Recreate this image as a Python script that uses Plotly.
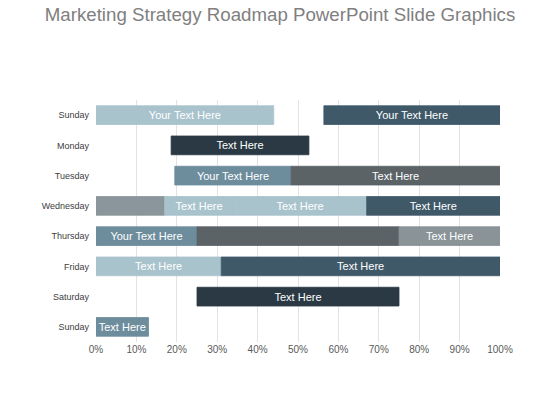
import plotly.graph_objects as go

# Rows, top to bottom
days = ["Sunday", "Monday", "Tuesday", "Wednesday", "Thursday", "Friday", "Saturday", "Sunday"]

# Segments: row index, start %, end %, tone, label
seg_row = [0, 0, 1, 2, 2, 3, 3, 3, 3, 4, 4, 4, 5, 5, 6, 7]
seg_start = [0, 56.4, 18.6, 19.5, 48.3, 0, 17, 34, 67, 0, 25, 75, 0, 31, 25, 0]
seg_end = [44, 100, 52.7, 48.3, 100, 17, 34, 67, 100, 25, 75, 100, 31, 100, 75, 13]
seg_tone = ["light", "slate", "dark", "steel", "charcoal", "ash", "light", "light",
            "slate", "steel", "charcoal", "silver", "light", "slate", "dark", "steel"]
seg_text = ["Your Text Here", "Your Text Here", "Text Here", "Your Text Here", "Text Here",
            "", "Text Here", "Text Here", "Text Here", "Your Text Here", "", "Text Here",
            "Text Here", "Text Here", "Text Here", "Text Here"]

x_ticks = [0, 10, 20, 30, 40, 50, 60, 70, 80, 90, 100]

tones = {
    "light": "#a9c3cd",
    "steel": "#6d8d9d",
    "slate": "#3f5969",
    "dark": "#2a3943",
    "charcoal": "#5b6367",
    "ash": "#8a969b",
    "silver": "#899398",
}
bar_colors = [tones[t] for t in seg_tone]

fig = go.Figure(go.Bar(
    orientation="h",
    y=seg_row,
    base=seg_start,
    x=[e - s for s, e in zip(seg_start, seg_end)],
    # outline in the fill colour so touching segments show no seam
    marker=dict(color=bar_colors, line=dict(width=0.8, color=bar_colors)),
    width=0.62,
    text=seg_text,
    textposition="inside",
    insidetextanchor="middle",
    constraintext="none",
    textfont=dict(color="white", size=11, family="Liberation Sans, Arial"),
    hoverinfo="skip",
))

# page body has an 8px margin, so the margins are shifted to compensate
fig.update_layout(
    width=552, height=412,
    margin=dict(l=88, r=60, t=92, b=78),
    paper_bgcolor="white", plot_bgcolor="white",
    showlegend=False,
    font=dict(family="Liberation Sans, Arial", color="#444444"),
    title=dict(
        text="Marketing Strategy Roadmap PowerPoint Slide Graphics",
        x=0.4928, xanchor="center", y=1, yanchor="top",
        pad=dict(t=0),
        font=dict(size=18.7, color="#808080"),
    ),
)
fig.update_xaxes(
    range=[0, 100], tickvals=x_ticks, ticktext=[f"{v}%" for v in x_ticks],
    showgrid=True, gridcolor="#e3e3e3", gridwidth=1,
    zeroline=False, showline=False, ticks="",
    tickfont=dict(size=10, color="#595959"),
)
fig.update_yaxes(
    range=[7.5, -0.5], tickvals=list(range(len(days))), ticktext=days,
    showgrid=False, zeroline=False, showline=False, ticks="",
    automargin=False, ticklabelstandoff=6,
    tickfont=dict(size=9, color="#404040"),
)

fig.write_html("out.html")
